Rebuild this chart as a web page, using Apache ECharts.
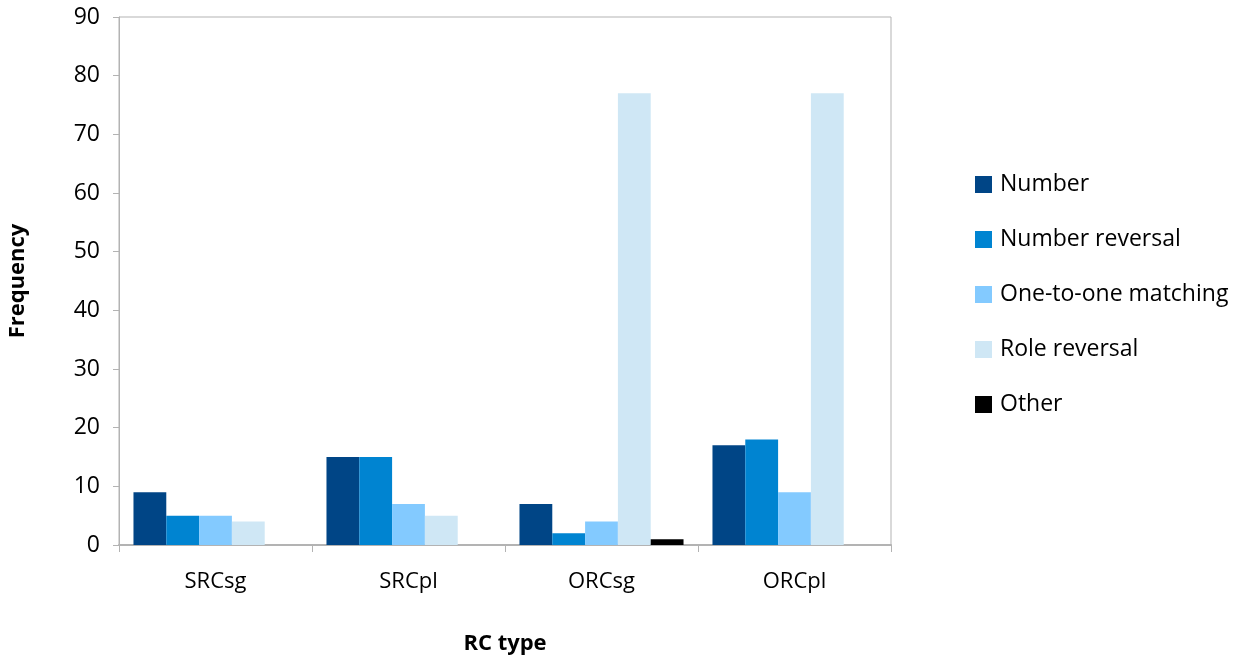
<!DOCTYPE html>
<html>
<head>
<meta charset="utf-8">
<script src="https://cdn.jsdelivr.net/npm/echarts@6/dist/echarts.min.js"></script>
<style>
  html, body { margin: 0; padding: 0; background: #fff; }
  #chart { width: 1253px; height: 658px; }
</style>
</head>
<body>
<div id="chart"></div>
<script>
// RC types on the x axis
const categories = ['SRCsg', 'SRCpl', 'ORCsg', 'ORCpl'];

// Frequency per response type
const numberVals = [9, 15, 7, 17];
const numberReversalVals = [5, 15, 2, 18];
const oneToOneVals = [5, 7, 4, 9];
const roleReversalVals = [4, 5, 77, 77];
const otherVals = [0, 0, 1, 0];

const seriesNames = ['Number', 'Number reversal', 'One-to-one matching', 'Role reversal', 'Other'];
const seriesColors = ['#004586', '#0084d1', '#83caff', '#cfe7f5', '#000000'];
const seriesValues = [numberVals, numberReversalVals, oneToOneVals, roleReversalVals, otherVals];

const FONT = '"Open Sans", Lato, sans-serif';

const chart = echarts.init(document.getElementById('chart'), null, { renderer: 'canvas' });

chart.setOption({
  animation: false,
  backgroundColor: '#ffffff',
  textStyle: { fontFamily: FONT, color: '#000' },
  grid: {
    left: 119, top: 17, right: 362, bottom: 113,
    outerBoundsMode: 'none',
    containLabel: false,
    show: true, borderColor: '#b3b3b3', borderWidth: 1, backgroundColor: 'transparent'
  },
  legend: {
    orient: 'vertical',
    left: 970,
    top: 168,
    itemWidth: 17,
    itemHeight: 17,
    itemGap: 32,
    icon: 'rect',
    textStyle: { fontFamily: FONT, fontSize: 23, color: '#000', padding: [0, 0, 0, 3] },
    data: seriesNames
  },
  xAxis: {
    type: 'category',
    data: categories,
    name: 'RC type',
    nameLocation: 'middle',
    nameGap: 88,
    nameTextStyle: { fontFamily: FONT, fontSize: 22, fontWeight: 'bold', color: '#000' },
    axisLine: { lineStyle: { color: '#b3b3b3', width: 2 } },
    axisTick: { show: true, length: 7, lineStyle: { color: '#b3b3b3', width: 1 } },
    axisLabel: { fontFamily: FONT, fontSize: 22, color: '#000', margin: 26 },
    splitLine: { show: false }
  },
  yAxis: {
    type: 'value',
    min: 0,
    max: 90,
    interval: 10,
    name: 'Frequency',
    nameLocation: 'middle',
    nameGap: 90,
    nameRotate: 90,
    nameTextStyle: { fontFamily: FONT, fontSize: 22, fontWeight: 'bold', color: '#000' },
    axisLine: { show: true, lineStyle: { color: '#b3b3b3', width: 1 } },
    axisTick: { show: true, length: 6, lineStyle: { color: '#b3b3b3' } },
    axisLabel: { fontFamily: FONT, fontSize: 23, color: '#000', margin: 19 },
    splitLine: { show: false }
  },
  series: seriesNames.map((name, i) => ({
    name: name,
    type: 'bar',
    data: seriesValues[i],
    barGap: '0%',
    barCategoryGap: '15%',
    itemStyle: { color: seriesColors[i] }
  }))
});
</script>
</body>
</html>
